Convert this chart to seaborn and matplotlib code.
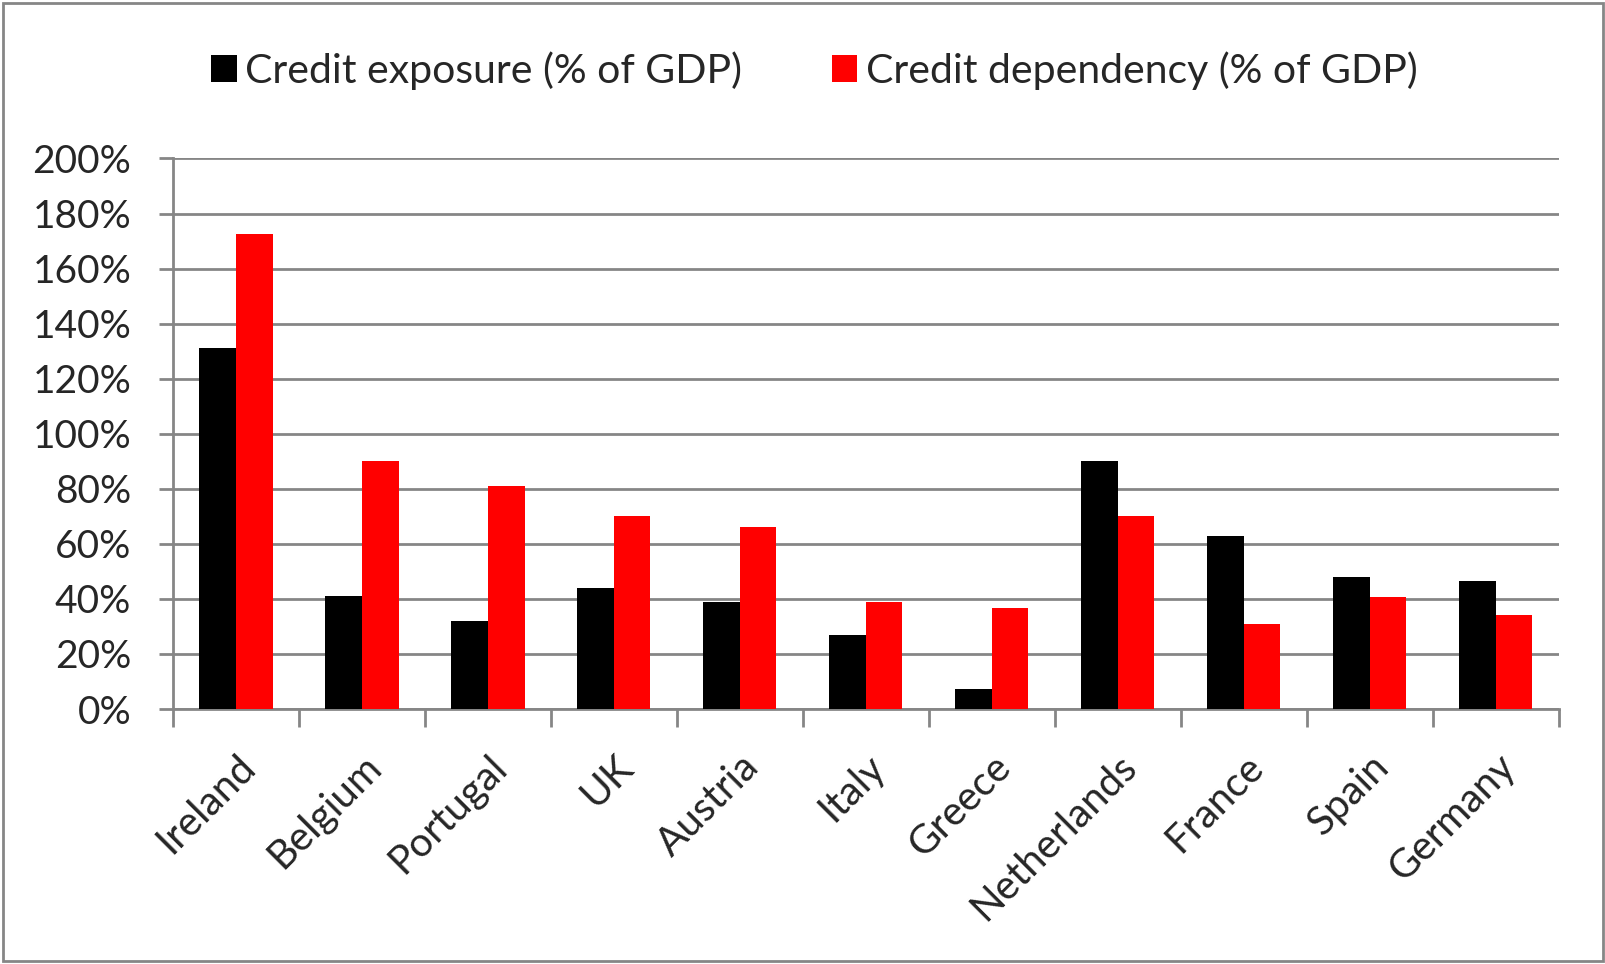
import matplotlib
matplotlib.use("Agg")
import matplotlib.pyplot as plt
import matplotlib.patches as mpatches
from matplotlib.ticker import PercentFormatter, FixedLocator
import seaborn as sns
import pandas as pd
import numpy as np

countries = ["Ireland", "Belgium", "Portugal", "UK", "Austria", "Italy",
             "Greece", "Netherlands", "France", "Spain", "Germany"]
exposure = [131, 41, 32, 44, 39, 27, 7.3, 90, 63, 48, 46.5]
dependency = [172.6, 90, 81, 70.2, 66, 38.7, 36.7, 70.2, 31, 40.7, 34.2]
series_names = ["Credit exposure (% of GDP)", "Credit dependency (% of GDP)"]
y_ticks = [0, 20, 40, 60, 80, 100, 120, 140, 160, 180, 200]

sns.set_theme(style="white")
plt.rcParams['font.family'] = ['Lato', 'DejaVu Sans']

df = pd.DataFrame({
    "country": countries * 2,
    "value": exposure + dependency,
    "series": [series_names[0]] * len(countries) + [series_names[1]] * len(countries),
})

fig = plt.figure(figsize=(16.06, 9.64), dpi=100)
ax = fig.add_axes([0.1077, 0.2645, 0.9707 - 0.1077, 0.8356 - 0.2645])

sns.barplot(data=df, x="country", y="value", hue="series", order=countries,
            hue_order=series_names, palette=["#000000", "#FF0000"],
            width=0.58, gap=0, saturation=1, ax=ax, legend=True, zorder=3,
            linewidth=0, edgecolor="none")

grid_c = "#868686"
ax.set_ylim(0, 200)
ax.set_xlim(-0.5, len(countries) - 0.5)
ax.yaxis.set_major_locator(FixedLocator(y_ticks))
ax.yaxis.set_major_formatter(PercentFormatter(100, decimals=0))
ax.grid(axis="y", color=grid_c, linewidth=2, zorder=0)
ax.set_axisbelow(True)
ax.set_xlabel("")
ax.set_ylabel("")

for s in ["top", "right"]:
    ax.spines[s].set_visible(False)
for s in ["left", "bottom"]:
    ax.spines[s].set_color(grid_c)
    ax.spines[s].set_linewidth(2)

fs = 28
ax.tick_params(axis="y", which="major", direction="out", length=10, width=2,
               color=grid_c, labelsize=fs, pad=20, left=True)
ax.tick_params(axis="x", which="major", length=0, labelsize=29, pad=28)
ax.set_xticks(np.arange(len(countries) + 1) - 0.5, minor=True)
ax.tick_params(axis="x", which="minor", direction="out", length=13, width=2,
               color=grid_c, bottom=True)
for lbl in ax.get_xticklabels():
    lbl.set_rotation(45)
    lbl.set_ha("right")
    lbl.set_rotation_mode("anchor")

leg = ax.legend(loc="center", bbox_to_anchor=(0.507, 0.927),
                bbox_transform=fig.transFigure, ncol=2, frameon=False,
                fontsize=29.5, handlelength=0.62, handleheight=0.62,
                handletextpad=0.2, columnspacing=2.2)

fig.patches.append(mpatches.Rectangle((0.002, 0.003), 0.996, 0.994,
                                      transform=fig.transFigure, fill=False,
                                      edgecolor=grid_c, linewidth=2))

fig.savefig("out.png", dpi=100)
